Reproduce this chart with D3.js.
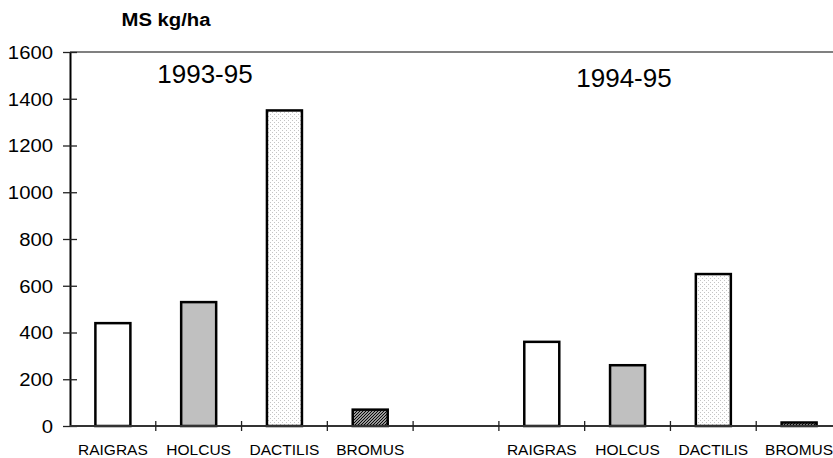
<!DOCTYPE html>
<html>
<head>
<meta charset="utf-8">
<script src="https://cdn.jsdelivr.net/npm/d3@7"></script>
<style>
  body { margin: 0; background: #fff; }
  text { font-family: 'Liberation Sans', Arial, sans-serif; fill: #000; }
</style>
</head>
<body>
<div id="chart"></div>
<script>
// data
const species = ['RAIGRAS', 'HOLCUS', 'DACTILIS', 'BROMUS']
const periods = ['1993-95', '1994-95']
const values9395 = [440, 530, 1350, 70]
const values9495 = [360, 260, 650, 15]
const yTicks = [0, 200, 400, 600, 800, 1000, 1200, 1400, 1600]
const yTitle = 'MS kg/ha'

const width = 833
const height = 458
const plotLeft = 70
const plotRight = 842
const plotTop = 52
const plotBottom = 426
const stretch = 1.16 // the original text is a bit wide

const svg = d3.select('#chart')
  .append('svg')
  .attr('width', width)
  .attr('height', height)

// fills: plain, grey, dotted, hatched
const defs = svg.append('defs')
const dots = defs.append('pattern')
  .attr('id', 'dots')
  .attr('width', 4)
  .attr('height', 4)
  .attr('patternUnits', 'userSpaceOnUse')
dots.append('rect').attr('width', 4).attr('height', 4).attr('fill', '#fff')
dots.append('rect').attr('x', 0).attr('y', 0).attr('width', 1).attr('height', 1).attr('fill', '#c4c4c4')
dots.append('rect').attr('x', 2).attr('y', 2).attr('width', 1).attr('height', 1).attr('fill', '#c4c4c4')

const hatch = defs.append('pattern')
  .attr('id', 'hatch')
  .attr('width', 3)
  .attr('height', 3)
  .attr('patternUnits', 'userSpaceOnUse')
hatch.append('rect').attr('width', 3).attr('height', 3).attr('fill', '#ddd')
hatch.append('path').attr('d', 'M-1,1 l2,-2 M0,3 l3,-3 M2,4 l2,-2').attr('stroke', '#000').attr('stroke-width', 1.2)

const fills = ['#fff', '#c0c0c0', 'url(#dots)', 'url(#hatch)']

// one band per species, plus an empty band between the two periods
const slots = []
periods.forEach((p, pi) => {
  species.forEach((s, si) => slots.push({ period: p, species: s, si, value: pi === 0 ? values9395[si] : values9495[si] }))
  if (pi === 0) slots.push({ period: p, species: '', si: -1, value: null })
})

const x = d3.scaleBand()
  .domain(d3.range(slots.length))
  .range([plotLeft, plotRight])
  .padding(0)

const y = d3.scaleLinear()
  .domain([0, 1600])
  .range([plotBottom, plotTop])

// top border of the plot area
svg.append('line')
  .attr('x1', plotLeft).attr('x2', width)
  .attr('y1', y(1600)).attr('y2', y(1600))
  .attr('stroke', '#808080')
  .attr('stroke-width', 2)

// bars
const barW = 35
svg.append('g')
  .selectAll('rect')
  .data(slots.filter(d => d.value !== null))
  .enter()
  .append('rect')
  .attr('x', d => x(slots.indexOf(d)) + x.bandwidth() / 2 - barW / 2)
  .attr('y', d => y(d.value))
  .attr('width', barW)
  .attr('height', d => y(0) - y(d.value))
  .attr('fill', d => fills[d.si])
  .attr('stroke', '#000')
  .attr('stroke-width', 2.5)

// y axis
const yAxis = svg.append('g')
  .attr('transform', `translate(${plotLeft},0)`)
  .call(d3.axisLeft(y).tickValues(yTicks).tickFormat(d3.format('d')).tickSizeInner(7).tickSizeOuter(0))
yAxis.select('.domain').attr('stroke', '#000').attr('stroke-width', 2)
yAxis.selectAll('.tick line').attr('x2', 7).attr('x1', -7).attr('stroke', '#222').attr('stroke-width', 1.3)
yAxis.selectAll('.tick text')
  .attr('x', -17 / stretch)
  .attr('dy', '0.36em')
  .attr('transform', `scale(${stretch},1)`)
  .style('font-size', '17.5px')
  .style('font-family', "'Liberation Sans', Arial, sans-serif")

// x axis with ticks on band edges
const xAxisG = svg.append('g')
xAxisG.append('line')
  .attr('x1', plotLeft).attr('x2', width)
  .attr('y1', y(0)).attr('y2', y(0))
  .attr('stroke', '#333')
  .attr('stroke-width', 2)
xAxisG.selectAll('line.edge')
  .data(d3.range(1, slots.length))
  .enter()
  .append('line')
  .attr('class', 'edge')
  .attr('x1', i => x(i)).attr('x2', i => x(i))
  .attr('y1', y(0) - 5).attr('y2', y(0) + 5)
  .attr('stroke', '#222')
  .attr('stroke-width', 1.3)
xAxisG.selectAll('text')
  .data(slots)
  .enter()
  .append('text')
  .attr('x', (d, i) => x(i) + x.bandwidth() / 2)
  .attr('y', 455)
  .attr('text-anchor', 'middle')
  .style('font-size', '15.5px')
  .text(d => d.species)

// titles
svg.append('text')
  .attr('transform', `translate(166,26) scale(${stretch},1)`)
  .attr('text-anchor', 'middle')
  .style('font-size', '17.5px')
  .style('font-weight', 'bold')
  .text(yTitle)

const periodX = [205, 624]
svg.selectAll('text.period')
  .data(periods)
  .enter()
  .append('text')
  .attr('class', 'period')
  .attr('x', (d, i) => periodX[i])
  .attr('y', (d, i) => i === 0 ? 83 : 87)
  .attr('text-anchor', 'middle')
  .style('font-size', '26px')
  .text(d => d)
</script>
</body>
</html>
